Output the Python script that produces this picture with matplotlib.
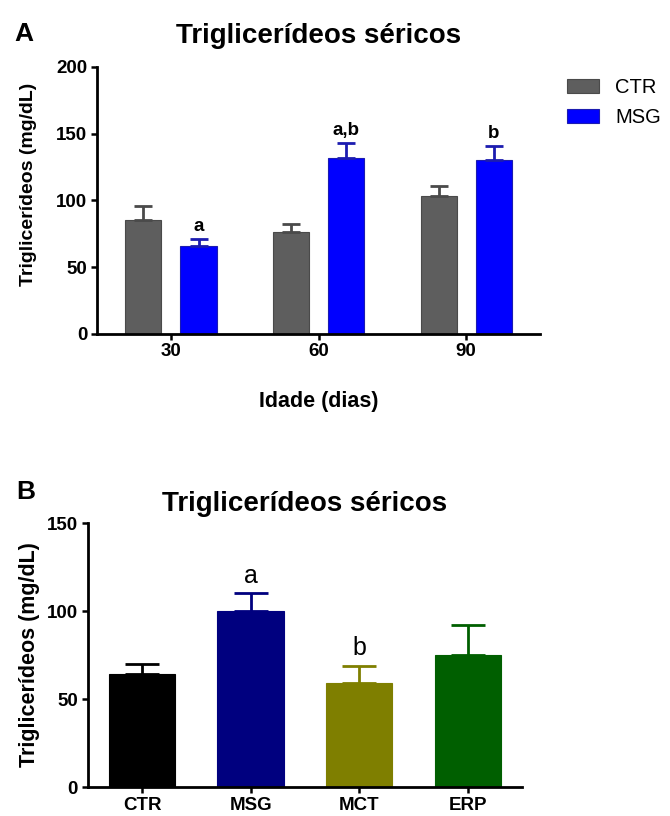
import matplotlib.pyplot as plt
import numpy as np

plt.rcParams["font.family"] = ["Liberation Sans", "DejaVu Sans"]

# Panel A data
ages = ["30", "60", "90"]
ctr_mean = [85, 76, 103]
ctr_err = [11, 6, 8]
msg_mean = [66, 132, 130]
msg_err = [5, 11, 11]
msg_marks = ["a", "a,b", "b"]

# Panel B data
groups = ["CTR", "MSG", "MCT", "ERP"]
group_mean = [64, 100, 59, 75]
group_err = [6, 10, 10, 17]
group_colors = ["#000000", "#00007f", "#7f7f00", "#005f00"]
group_marks = ["", "a", "b", ""]


def style_axes(ax):
    for side in ("top", "right"):
        ax.spines[side].set_visible(False)
    for side in ("left", "bottom"):
        ax.spines[side].set_linewidth(2)
    ax.tick_params(width=1.8, length=4.5, pad=2.5, labelsize=13.5)
    for lab in ax.get_xticklabels() + ax.get_yticklabels():
        lab.set_fontweight("bold")


fig = plt.figure(figsize=(6.7, 8.16), dpi=100)

# ---- Panel A ----
ax = fig.add_axes([0.145, 0.591, 0.661, 0.327])
x = np.arange(len(ages))
w = 0.245
off = 0.187
ax.bar(x - off, ctr_mean, w, color="#5e5e5e", edgecolor="#4a4a4a", linewidth=0.8, label="CTR")
ax.bar(x + off, msg_mean, w, color="#0000ff", edgecolor="#1c1cb0", linewidth=0.8, label="MSG")
ax.errorbar(x - off, ctr_mean, yerr=[np.zeros(3), ctr_err], fmt="none",
            ecolor="#4a4a4a", elinewidth=2, capsize=6.5, capthick=2)
ax.errorbar(x + off, msg_mean, yerr=[np.zeros(3), msg_err], fmt="none",
            ecolor="#1c1cb0", elinewidth=2, capsize=6.5, capthick=2)
for xi, m, e, t in zip(x + off, msg_mean, msg_err, msg_marks):
    ax.text(xi, m + e + 6, t, ha="center", va="baseline", fontsize=13.5, fontweight="bold")
ax.set_xlim(-0.5, 2.5)
ax.set_ylim(0, 200)
ax.set_yticks([0, 50, 100, 150, 200])
ax.set_xticks(x)
ax.set_xticklabels(ages)
ax.set_xlabel("Idade (dias)", fontsize=15.5, fontweight="bold", labelpad=22)
ax.set_ylabel("Triglicerídeos (mg/dL)", fontsize=14, fontweight="bold")
ax.yaxis.set_label_coords(-0.135, 0.56)
ax.set_title("Triglicerídeos séricos", fontsize=20, fontweight="bold", pad=17)
style_axes(ax)
ax.legend(loc="upper left", bbox_to_anchor=(1.061, 0.959), frameon=False,
          fontsize=14.5, handlelength=1.6, handleheight=0.7, handletextpad=0.8,
          labelspacing=0.55, borderpad=0, borderaxespad=0)
fig.text(0.022, 0.958, "A", fontsize=19, fontweight="bold", va="center")

# ---- Panel B ----
bx = fig.add_axes([0.131, 0.0355, 0.648, 0.3235])
xb = np.arange(len(groups))
bx.bar(xb, group_mean, 0.61, color=group_colors, edgecolor=group_colors, linewidth=0.8)
for xi, m, e, c, t in zip(xb, group_mean, group_err, group_colors, group_marks):
    bx.errorbar(xi, m, yerr=[[0], [e]], fmt="none", ecolor=c,
                elinewidth=2, capsize=12, capthick=2)
    if t:
        bx.text(xi, m + e + 6, t, ha="center", va="baseline", fontsize=18)
bx.set_xlim(-0.5, 3.5)
bx.set_ylim(0, 150)
bx.set_yticks([0, 50, 100, 150])
bx.set_xticks(xb)
bx.set_xticklabels(groups)
bx.set_ylabel("Triglicerídeos (mg/dL)", fontsize=15.5, fontweight="bold")
bx.yaxis.set_label_coords(-0.11, 0.5)
bx.set_title("Triglicerídeos séricos", fontsize=20, fontweight="bold", pad=9)
style_axes(bx)
fig.text(0.024, 0.397, "B", fontsize=19, fontweight="bold", va="center")

fig.savefig("out.png", dpi=100)
